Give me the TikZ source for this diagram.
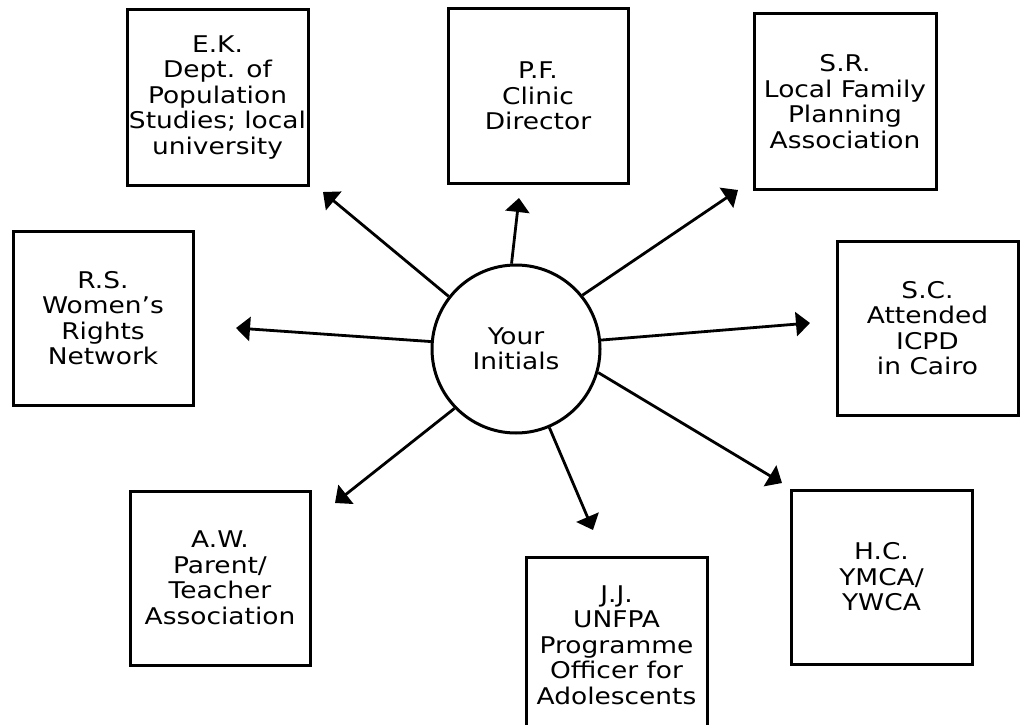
\documentclass[tikz,border=0pt]{standalone}
\usepackage{fontspec}
\setmainfont{DejaVu Sans}[FakeStretch=1.15]
\usetikzlibrary{arrows.meta}
\begin{document}
\begin{tikzpicture}[x=1pt,y=-1pt,
  box/.style={draw, line width=3pt, inner sep=0pt, align=center,
    font=\fontsize{23}{25.5}\selectfont},
  hub/.style={draw, circle, line width=3pt, inner sep=0pt, minimum size=168pt,
    align=center, font=\fontsize{23}{25.5}\selectfont},
  arr/.style={line width=2.8pt, -{Triangle[length=14pt,width=24pt]}}]
\clip (0,0) rectangle (1023,725);
\useasboundingbox (0,0) rectangle (1023,725);
\node[box, minimum width=181pt, minimum height=175pt] (EK) at (217.5,97.5)
  {E.K.\\Dept. of\\Population\\Studies; local\\university};
\node[box, minimum width=180pt, minimum height=174pt] (PF) at (538,96)
  {P.F.\\Clinic\\Director};
\node[box, minimum width=182pt, minimum height=175pt] (SR) at (845,101.5)
  {S.R.\\Local Family\\Planning\\Association};
\node[box, minimum width=180pt, minimum height=174pt] (RS) at (103,318)
  {R.S.\\Women’s\\Rights\\Network};
\node[box, minimum width=181pt, minimum height=174pt] (SC) at (927.5,328)
  {S.C.\\Attended\\ICPD\\in Cairo};
\node[box, minimum width=180pt, minimum height=174pt] (AW) at (220,578)
  {A.W.\\Parent/\\Teacher\\Association};
\node[box, minimum width=181pt, minimum height=176pt] (JJ) at (616.5,645)
  {J.J.\\UNFPA\\Programme\\Officer for\\Adolescents};
\node[box, minimum width=181pt, minimum height=174pt] (HC) at (881.5,577)
  {H.C.\\YMCA/\\YWCA};
\node[hub] (c) at (516,349) {Your\\Initials};
\coordinate (tEK) at (323,192);
\coordinate (tPF) at (519,198);
\coordinate (tSR) at (738,190);
\coordinate (tRS) at (236,328);
\coordinate (tSC) at (810,323);
\coordinate (tAW) at (335,503);
\coordinate (tJJ) at (593,530);
\coordinate (tHC) at (782,483);
\draw[arr] (c.142) -- (tEK);
\draw[arr] (c.93) -- (tPF);
\draw[arr] (c.39) -- (tSR);
\draw[arr] (c.175) -- (tRS);
\draw[arr] (c.6) -- (tSC);
\draw[arr] (c.-136) -- (tAW);
\draw[arr] (c.-67) -- (tJJ);
\draw[arr] (c.-16) -- (tHC);
\end{tikzpicture}
\end{document}
